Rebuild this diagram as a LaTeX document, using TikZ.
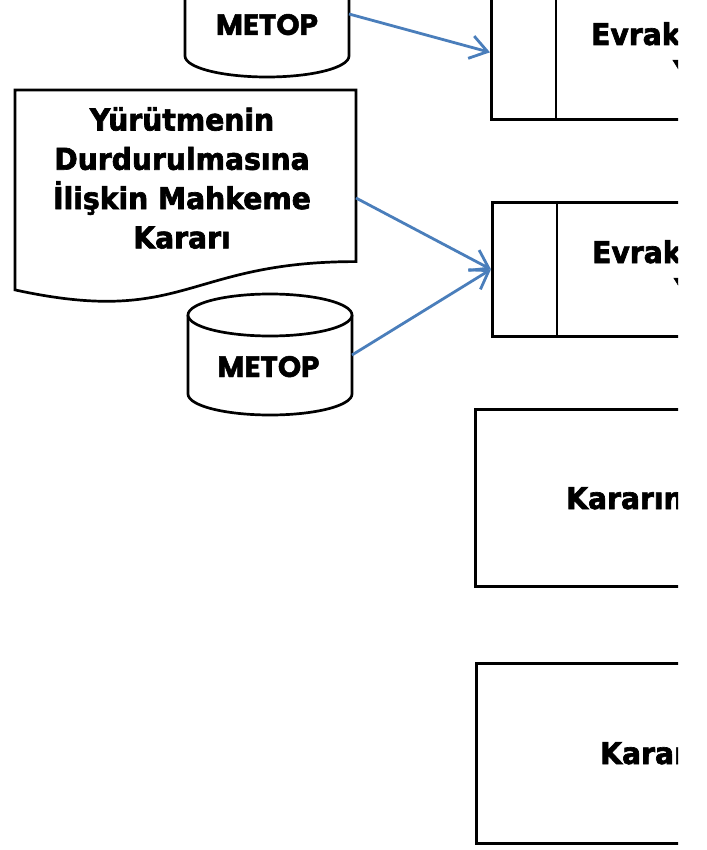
\documentclass[tikz,border=0pt]{standalone}
\usepackage{fontspec}
\newfontfamily\tahb{DejaVu Sans}[UprightFont={* Bold}, FakeStretch=0.94, FakeBold=2.2]
\newfontfamily\pop{Poppins}[BoldFeatures={FakeBold=1.6}]
\usetikzlibrary{arrows.meta}
\definecolor{arrowblue}{RGB}{74,126,187}
\tikzset{
  shapeline/.style={draw=black, line width=2.7pt, fill=white},
  boxshape/.style={shapeline, rectangle, anchor=north west, inner sep=0pt, minimum width=300pt},
  flow/.style={draw=arrowblue, line width=2.8pt, -{Straight Barb[length=17pt,width=23pt]}},
  doctxt/.style={font=\tahb\fontsize{30}{39.3}\selectfont, align=center, inner sep=0pt},
  boxtxt/.style={font=\tahb\fontsize{30}{34}\selectfont, anchor=base west, inner sep=0pt},
  cyltxt/.style={font=\pop\bfseries\fontsize{29.5}{34}\selectfont, anchor=base, inner sep=0pt},
}
\begin{document}
\begin{tikzpicture}[x=1pt,y=1pt]
\useasboundingbox (0,0) rectangle (706,-850);
\clip (0,0) rectangle (678,-850);

% Evrak boxes
\node[boxshape, minimum height=134pt] (ev1) at (490,16) {};
\draw[line width=2.7pt] ([xshift=66pt]ev1.north west) -- ([xshift=66pt]ev1.south west);
\node[boxtxt] (ev1t) at (591,-45) {Evrak};
\node[boxtxt] (ev1y) at (673,-82) {Y};

\node[boxshape, minimum height=134pt] (ev2) at (491,-201) {};
\draw[line width=2.7pt] ([xshift=66pt]ev2.north west) -- ([xshift=66pt]ev2.south west);
\node[boxtxt] (ev2t) at (592,-263) {Evrak};
\node[boxtxt] (ev2y) at (674,-300) {Y};

% Karar boxes
\node[boxshape, minimum height=177pt] (kr1) at (474,-408) {};
\node[boxtxt] (kr1t) at (566,-509) {Kararın};
\node[boxshape, minimum height=180pt] (kr2) at (475,-662) {};
\node[boxtxt] (kr2t) at (600,-764) {Karar};

% top cylinder (cut off at the top)
\draw[shapeline] (185,30) -- (185,-56) arc[start angle=180,end angle=360,x radius=82,y radius=21] -- (349,30);
\draw[shapeline] (267,30) ellipse[x radius=82,y radius=21];
\node[cyltxt] (cyl1t) at (267,-35) {METOP};
\coordinate (cyl1e) at (349,-14);

% document shape
\draw[shapeline] (15,-90) -- (356,-90) -- (356,-261.6)
  .. controls (185.5,-261.6) and (185.5,-327) .. (15,-289.9) -- cycle;
\node[doctxt] (doct) at (182,-178) {Yürütmenin\\Durdurulmasına\\İlişkin Mahkeme\\Kararı};
\coordinate (doce) at (356,-198);

% lower cylinder
\draw[shapeline] (188,-315) -- (188,-394) arc[start angle=180,end angle=360,x radius=82,y radius=21] -- (352,-315);
\draw[shapeline] (270,-315) ellipse[x radius=82,y radius=21];
\node[cyltxt] (cyl2t) at (268.5,-377) {METOP};
\coordinate (cyl2e) at (352,-355);

% connectors
\draw[flow] (cyl1e) -- (ev1.west);
\draw[flow] (doce) -- (ev2.west);
\draw[flow] (cyl2e) -- (ev2.west);
\end{tikzpicture}
\end{document}
